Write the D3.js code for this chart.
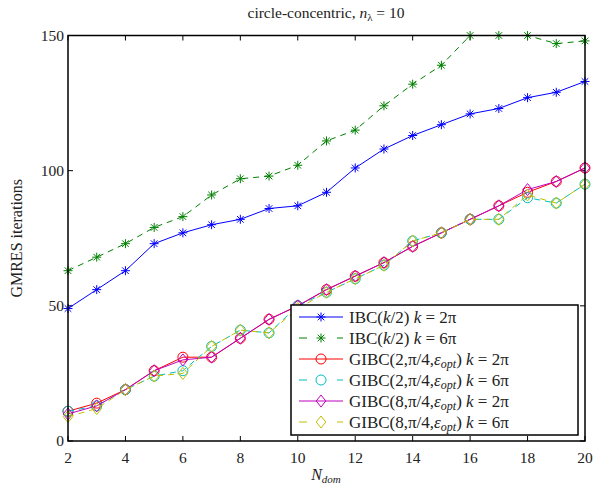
<!DOCTYPE html>
<html>
<head>
<meta charset="utf-8">
<script src="https://cdn.jsdelivr.net/npm/d3@7"></script>
<style>
  body { margin: 0; background: #fff; }
  text { font-family: "Liberation Serif", "DejaVu Serif", serif; fill: #222; }
</style>
</head>
<body>
<div id="chart"></div>
<script>
// N_dom values along the x axis
const nDom = [2, 3, 4, 5, 6, 7, 8, 9, 10, 11, 12, 13, 14, 15, 16, 17, 18, 19, 20];

// GMRES iteration counts
const ibc2pi    = [49, 56, 63, 73, 77, 80, 82, 86, 87, 92, 101, 108, 113, 117, 121, 123, 127, 129, 133];
const ibc6pi    = [63, 68, 73, 79, 83, 91, 97, 98, 102, 111, 115, 124, 132, 139, 150, 150, 150, 147, 148];
const gibc2_2pi = [11, 14, 19, 26, 31, 31, 38, 45, 50, 56, 61, 66, 72, 77, 82, 87, 92, 96, 101];
const gibc2_6pi = [11, 13, 19, 24, 26, 35, 41, 40, 50, 55, 60, 65, 74, 77, 82, 82, 90, 88, 95];
const gibc8_2pi = [10, 13, 19, 26, 30, 31, 38, 45, 50, 56, 61, 66, 72, 77, 82, 87, 93, 96, 101];
const gibc8_6pi = [9, 12, 19, 24, 25, 35, 41, 40, 49, 55, 60, 65, 74, 77, 82, 82, 91, 88, 95];

const xTicks = [2, 4, 6, 8, 10, 12, 14, 16, 18, 20];
const yTicks = [0, 50, 100, 150];

const series = [
  {name: "IBC(k/2)", p: "", k: "2π", vals: ibc2pi, color: "#0000ff", dash: null, marker: "star"},
  {name: "IBC(k/2)", p: "", k: "6π", vals: ibc6pi, color: "#008000", dash: "6,5", marker: "star"},
  {name: "GIBC", p: "2", k: "2π", vals: gibc2_2pi, color: "#ff0000", dash: null, marker: "circle"},
  {name: "GIBC", p: "2", k: "6π", vals: gibc2_6pi, color: "#00bfbf", dash: "6,5", marker: "circle"},
  {name: "GIBC", p: "8", k: "2π", vals: gibc8_2pi, color: "#bf00bf", dash: null, marker: "diamond"},
  {name: "GIBC", p: "8", k: "6π", vals: gibc8_6pi, color: "#bfbf00", dash: "6,5", marker: "diamond"}
];

const W = 593, H = 488;
const margin = {top: 35.5, right: 8, bottom: 47, left: 68};
const width = W - margin.left - margin.right;
const height = H - margin.top - margin.bottom;

const svg = d3.select("#chart").append("svg")
  .attr("width", W).attr("height", H);
const g = svg.append("g")
  .attr("transform", "translate(" + margin.left + "," + margin.top + ")");

const x = d3.scaleLinear().domain([2, 20]).range([0, width]);
const y = d3.scaleLinear().domain([0, 150]).range([height, 0]);

// ticks pointing inward on all four sides
const tickLen = 5;
g.append("g")
  .selectAll("line").data(xTicks).enter().append("line")
  .attr("x1", d => x(d)).attr("x2", d => x(d))
  .attr("y1", height).attr("y2", height - tickLen)
  .attr("stroke", "#000");
g.append("g")
  .selectAll("line").data(xTicks).enter().append("line")
  .attr("x1", d => x(d)).attr("x2", d => x(d))
  .attr("y1", 0).attr("y2", tickLen)
  .attr("stroke", "#000");
g.append("g")
  .selectAll("line").data(yTicks).enter().append("line")
  .attr("x1", 0).attr("x2", tickLen)
  .attr("y1", d => y(d)).attr("y2", d => y(d))
  .attr("stroke", "#000");
g.append("g")
  .selectAll("line").data(yTicks).enter().append("line")
  .attr("x1", width).attr("x2", width - tickLen)
  .attr("y1", d => y(d)).attr("y2", d => y(d))
  .attr("stroke", "#000");

// tick labels
g.selectAll("text.xl").data(xTicks).enter().append("text")
  .attr("class", "xl")
  .attr("x", d => x(d)).attr("y", height + 22)
  .attr("text-anchor", "middle")
  .style("font-size", "15.5px")
  .text(d => d);
g.selectAll("text.yl").data(yTicks).enter().append("text")
  .attr("class", "yl")
  .attr("x", -4).attr("y", d => y(d) + 5)
  .attr("text-anchor", "end")
  .style("font-size", "15.5px")
  .text(d => d);

// markers
function drawMarker(sel, type, color) {
  if (type === "star") {
    const r = 4.5, r2 = 3.3;
    sel.append("path")
      .attr("d", "M" + (-r) + ",0L" + r + ",0M0," + (-r) + "L0," + r +
        "M" + (-r2) + "," + (-r2) + "L" + r2 + "," + r2 +
        "M" + (-r2) + "," + r2 + "L" + r2 + "," + (-r2))
      .attr("stroke", color).attr("stroke-width", 1).attr("fill", "none");
  } else if (type === "circle") {
    sel.append("circle").attr("r", 5)
      .attr("stroke", color).attr("stroke-width", 1).attr("fill", "none");
  } else {
    const r = 6;
    sel.append("path")
      .attr("d", "M0," + (-r) + "L" + (r * 0.8) + ",0L0," + r + "L" + (-r * 0.8) + ",0Z")
      .attr("stroke", color).attr("stroke-width", 1).attr("fill", "none");
  }
}

const line = d3.line()
  .x((d, i) => x(nDom[i]))
  .y(d => y(d));

series.forEach(s => {
  const sg = g.append("g");
  sg.append("path")
    .datum(s.vals)
    .attr("d", line)
    .attr("fill", "none")
    .attr("stroke", s.color)
    .attr("stroke-width", 1)
    .attr("stroke-dasharray", s.dash);
  sg.selectAll("g.m").data(s.vals).enter().append("g")
    .attr("class", "m")
    .attr("transform", (d, i) => "translate(" + x(nDom[i]) + "," + y(d) + ")")
    .each(function() { drawMarker(d3.select(this), s.marker, s.color); });
});

// frame
g.append("rect")
  .attr("x", 0).attr("y", 0).attr("width", width).attr("height", height)
  .attr("fill", "none").attr("stroke", "#000").attr("stroke-width", 1.5);

// legend
const lg = svg.append("g").attr("transform", "translate(291,305)");
lg.append("rect")
  .attr("x", 0).attr("y", 0).attr("width", 287).attr("height", 130)
  .attr("fill", "#fff").attr("stroke", "#000").attr("stroke-width", 1.5);
series.forEach((s, i) => {
  const row = lg.append("g").attr("transform", "translate(0," + (12 + i * 21) + ")");
  row.append("line")
    .attr("x1", 8).attr("x2", 52).attr("y1", 0).attr("y2", 0)
    .attr("stroke", s.color).attr("stroke-width", 1)
    .attr("stroke-dasharray", s.dash ? "8,11" : null);
  const mk = row.append("g").attr("transform", "translate(30,0)");
  if (s.dash) {
    mk.append("rect").attr("x", -8).attr("y", -7).attr("width", 16).attr("height", 14).attr("fill", "#fff");
  }
  drawMarker(mk, s.marker, s.color);
  const t = row.append("text").attr("x", 58).attr("y", 5.5).style("font-size", "17px");
  if (s.p === "") {
    t.append("tspan").text("IBC(");
    t.append("tspan").style("font-style", "italic").text("k");
    t.append("tspan").text("/2) ");
  } else {
    t.append("tspan").text("GIBC(" + s.p + ",π/4,");
    t.append("tspan").style("font-style", "italic").text("ε");
    t.append("tspan").style("font-style", "italic").style("font-size", "12px").attr("dy", 3).text("opt");
    t.append("tspan").attr("dy", -3).text(") ");
  }
  t.append("tspan").style("font-style", "italic").text("k");
  t.append("tspan").text(" = " + s.k);
});

// title
const title = svg.append("text")
  .attr("x", 326).attr("y", 18)
  .attr("text-anchor", "middle")
  .style("font-size", "15.5px");
title.append("tspan").text("circle-concentric, ");
title.append("tspan").style("font-style", "italic").text("n");
title.append("tspan").style("font-size", "11px").attr("dy", 3).text("λ");
title.append("tspan").attr("dy", -3).text(" = 10");

// axis labels
const xl = svg.append("text")
  .attr("x", 326).attr("y", 480)
  .attr("text-anchor", "middle")
  .style("font-size", "16px");
xl.append("tspan").style("font-style", "italic").text("N");
xl.append("tspan").style("font-style", "italic").style("font-size", "11px").attr("dy", 3).text("dom");

svg.append("text")
  .attr("transform", "translate(22," + (margin.top + height / 2) + ") rotate(-90)")
  .attr("text-anchor", "middle")
  .style("font-size", "16px")
  .text("GMRES iterations");
</script>
</body>
</html>
